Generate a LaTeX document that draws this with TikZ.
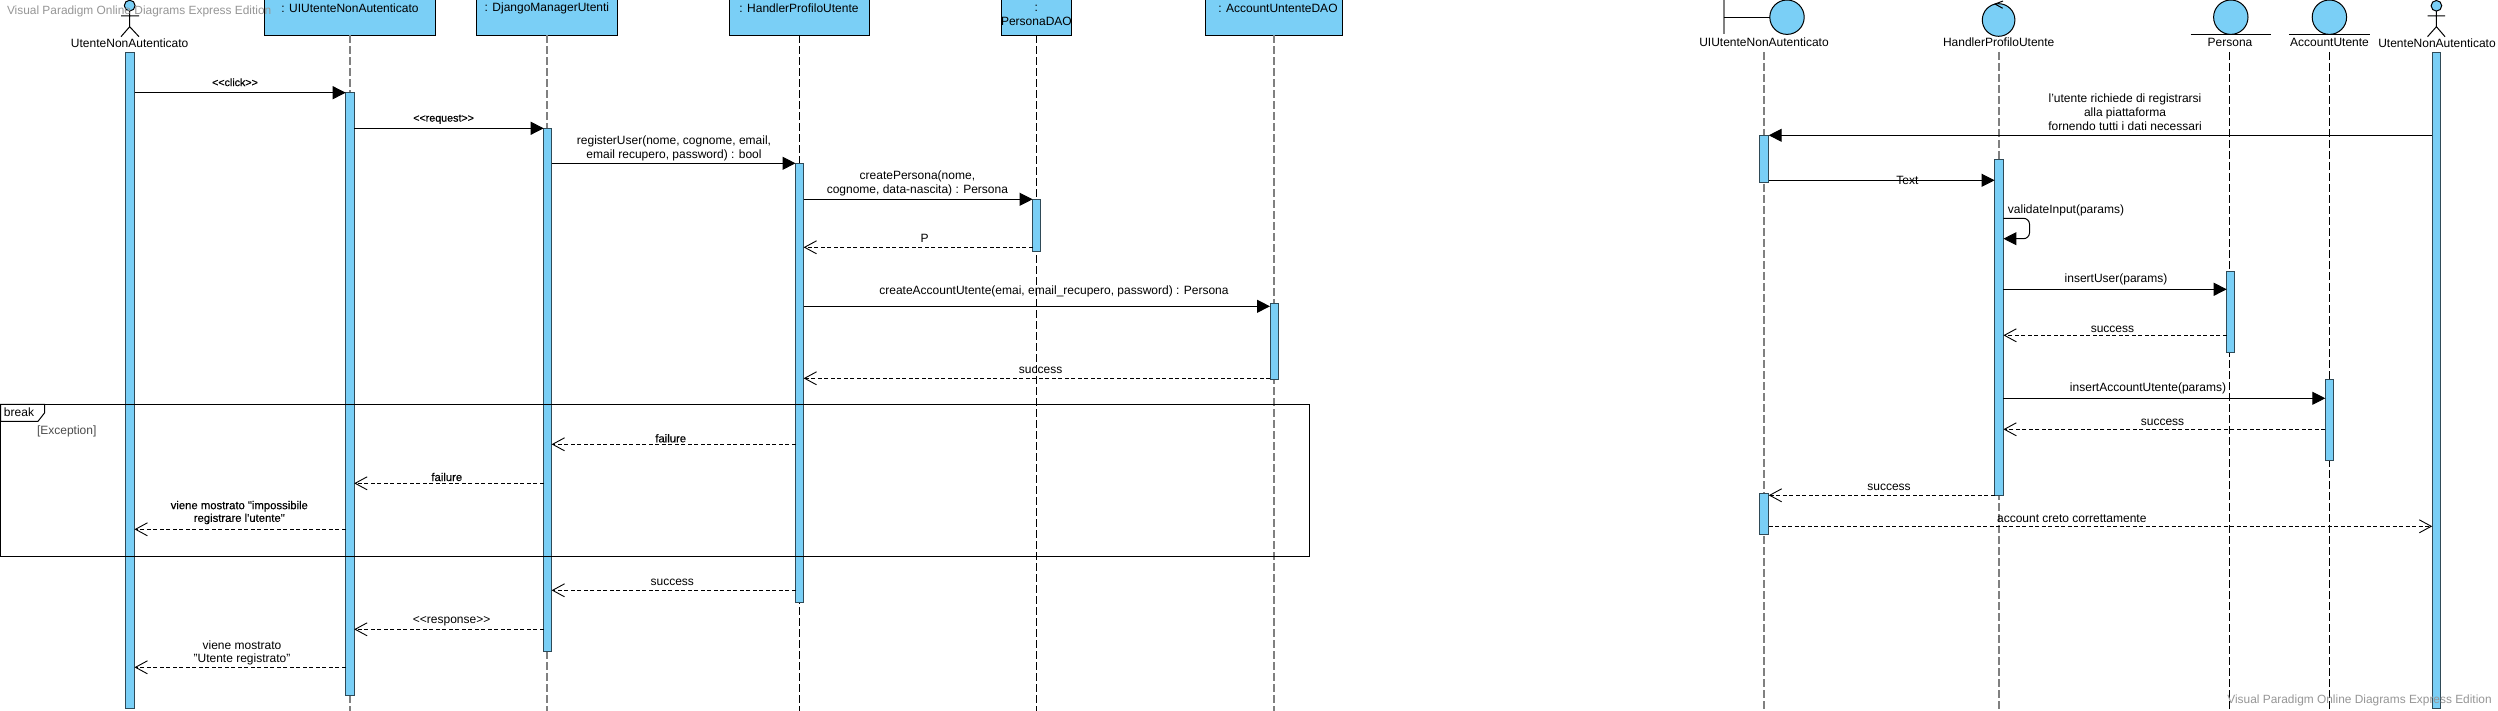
\documentclass[tikz,border=0pt]{standalone}
\usepackage{fontspec}
\setmainfont{Liberation Sans}
\newfontfamily\smallheavy[FakeBold=0.35]{Liberation Sans}
\usetikzlibrary{arrows.meta,fit}
\definecolor{vpblue}{HTML}{7ACFF6}
\definecolor{vpedge}{HTML}{2F4A57}
\definecolor{vpmark}{HTML}{969696}
\tikzset{
  headbox/.style={draw=black,fill=vpblue,line width=1pt,inner sep=0pt,outer sep=0pt},
  actb/.style={draw=vpedge,fill=vpblue,line width=1pt,inner sep=0pt,outer sep=0pt},
  life/.style={draw=black,line width=1pt,dash pattern=on 8pt off 3pt},
  lifeg/.style={draw=black!50,line width=2pt,dash pattern=on 8pt off 3pt},
  callm/.style={draw=black,line width=1pt,-{Triangle[length=13pt,width=13pt]}},
  retm/.style={draw=black,line width=0.9pt,dash pattern=on 4pt off 2.5pt,-{Straight Barb[length=12pt,width=13pt,line width=0.9pt]}},
  lbl/.style={inner sep=0pt,outer sep=0pt,align=center,font=\fontsize{12}{14}\selectfont},
  lbm/.style={inner sep=0pt,outer sep=0pt,align=center,font=\fontsize{12}{13.3}\selectfont},
  lbs/.style={inner sep=0pt,outer sep=0pt,align=center,font=\smallheavy\fontsize{10.7}{12.7}\selectfont},
  lbt/.style={inner sep=0pt,outer sep=0pt,align=center,font=\smallheavy\fontsize{11.3}{12.7}\selectfont},
  wmark/.style={inner sep=0pt,outer sep=0pt,text=vpmark,font=\fontsize{11.9}{14}\selectfont},
  circ/.style={circle,draw=black,fill=vpblue,line width=1pt,inner sep=0pt,outer sep=0pt},
  stick/.style={draw=black,line width=1pt}
}
\newcommand{\actbar}[5]{\node[actb,fit={(#2,#3)(#4,#5)}] (#1) {};}
\begin{document}
\begin{tikzpicture}[x=1pt,y=-1pt]
\useasboundingbox (0,0) rectangle (2498,711);
\fill[white] (0,0) rectangle (2498,711);

% --- left diagram: lifeline heads
\node[headbox,fit={(264.7,0)(435,35.3)}] (bU) {};
\node[headbox,fit={(476.4,0)(617.3,35.3)}] (bD) {};
\node[headbox,fit={(729.5,0)(869.6,35.3)}] (bH) {};
\node[headbox,fit={(1001.3,0)(1071.4,35.3)}] (bP) {};
\node[headbox,fit={(1205.4,0)(1342,35.3)}] (bA) {};
\node[lbl] (tU) at (350,8) {: UIUtenteNonAutenticato};
\node[lbl] (tD) at (546.9,8) {: DjangoManagerUtenti};
\node[lbl] (tH) at (799,8) {: HandlerProfiloUtente};
\node[lbl] (tP) at (1036.4,15) {:\\PersonaDAO};
\node[lbl] (tA) at (1278,8) {: AccountUntenteDAO};

\coordinate (eU) at (350,711);
\coordinate (eD) at (546.9,711);
\coordinate (eH) at (799,711);
\coordinate (eP) at (1036.6,711);
\coordinate (eA) at (1274,711);
\draw[lifeg] (bU.south -| eU) -- (eU);
\draw[lifeg] (bD.south -| eD) -- (eD);
\draw[life] (bH.south -| eH) -- (eH);
\draw[life] (bP.south -| eP) -- (eP);
\draw[lifeg] (bA.south -| eA) -- (eA);

% left actor
\node[circ,minimum size=10.8pt] (hL) at (129.7,5.6) {};
\coordinate (wL) at (129.7,26.7);
\coordinate (aL1) at (121,16);
\coordinate (aL2) at (139,16);
\coordinate (fL1) at (121,36.7);
\coordinate (fL2) at (139,36.7);
\draw[stick] (hL) -- (wL) (aL1) -- (aL2) (fL1) -- (wL) -- (fL2);
\node[lbl] (tL) at (129.7,43.7) {UtenteNonAutenticato};

% left activations
\actbar{aL}{125.5}{52.3}{134.5}{708}
\actbar{aU}{345.7}{92.7}{354.2}{695.3}
\actbar{aD}{543.7}{128.3}{551.6}{651.7}
\actbar{aH}{795.5}{163.3}{803.6}{602.3}
\actbar{aP}{1032.6}{199.3}{1040.6}{251.3}
\actbar{aA}{1270}{303.3}{1278.6}{379.3}

% left messages
\draw[callm] (aL.east |- 0,92.7) -- (aU.west |- 0,92.7);
\node[lbs] (m1) at (235,82.3) {<{}<click>{}>};
\draw[callm] (aU.east |- 0,128.3) -- (aD.west |- 0,128.3);
\node[lbs] (m2) at (443.6,119.3) {<{}<request>{}>};
\draw[callm] (aD.east |- 0,163.3) -- (aH.west |- 0,163.3);
\node[lbl] (m3) at (674,148.8) {registerUser(nome, cognome, email,\\email recupero, password) : bool};
\draw[callm] (aH.east |- 0,199.3) -- (aP.west |- 0,199.3);
\node[lbl] (m4) at (917.4,183.7) {createPersona(nome,\\cognome, data-nascita) : Persona};
\draw[retm] (aP.west |- 0,247.3) -- (aH.east |- 0,247.3);
\node[lbl] (m5) at (924.6,238.3) {P};
\draw[callm] (aH.east |- 0,306.3) -- (aA.west |- 0,306.3);
\node[lbl] (m6) at (1054,291.7) {createAccountUtente(emai, email\_recupero, password) : Persona};
\draw[retm] (aA.west |- 0,378.3) -- (aH.east |- 0,378.3);
\node[lbl] (m7) at (1040.6,370.7) {success};
\draw[retm] (aH.west |- 0,444.3) -- (aD.east |- 0,444.3);
\node[lbt] (m8) at (670.7,438.3) {failure};
\draw[retm] (aD.west |- 0,483.3) -- (aU.east |- 0,483.3);
\node[lbt] (m9) at (446.8,477) {failure};
\draw[retm] (aU.west |- 0,529.3) -- (aL.east |- 0,529.3);
\node[lbt] (m10) at (239.3,512.6) {viene mostrato "impossibile\\registrare l'utente"};
\draw[retm] (aH.west |- 0,590.3) -- (aD.east |- 0,590.3);
\node[lbl] (m11) at (672.3,582) {success};
\draw[retm] (aD.west |- 0,629.3) -- (aU.east |- 0,629.3);
\node[lbm] (m12) at (451.6,621.7) {<{}<response>{}>};
\draw[retm] (aU.west |- 0,667.3) -- (aL.east |- 0,667.3);
\node[lbm] (m13) at (242,652.7) {viene mostrato\\"Utente registrato"};

% combined fragment
\draw[draw=black,line width=1pt] (0.5,404.3) rectangle (1309.4,556.3);
\draw[draw=black,fill=white,line width=1pt] (0.5,404.3) -- (44.5,404.3) -- (44.5,413) -- (38,421.3) -- (0.5,421.3) -- cycle;
\node[lbl] (fb) at (19,412.7) {break};
\node[lbl,text=black!70] (fg) at (66.7,431.7) {[Exception]};

% --- right diagram: lifeline heads
\coordinate (bar1) at (1723.8,0);
\coordinate (bar2) at (1723.8,34.3);
\node[circ,minimum size=34.4pt] (cU) at (1787,17.2) {};
\draw[draw=black!50,line width=2pt] (bar1) -- (bar2);
\draw[stick] (bar1 |- cU) -- (cU);
\node[circ,minimum size=32.6pt] (cH) at (1998.6,20) {};
\coordinate (chv1) at (2003,1);
\coordinate (chv2) at (1995,4);
\coordinate (chv3) at (2002.7,8.3);
\draw[stick] (chv1) -- (chv2) -- (chv3);
\node[circ,minimum size=34.4pt] (cP) at (2230.8,17.2) {};
\coordinate (uP1) at (2190.7,34.3);
\coordinate (uP2) at (2270.5,34.3);
\draw[stick] (uP1) -- (uP2);
\node[circ,minimum size=34.4pt] (cA) at (2329.4,17.2) {};
\coordinate (uA1) at (2288.8,34.3);
\coordinate (uA2) at (2369.6,34.3);
\draw[stick] (uA1) -- (uA2);
\node[lbl] (tcU) at (1764,42.7) {UIUtenteNonAutenticato};
\node[lbl] (tcH) at (1998.7,42.7) {HandlerProfiloUtente};
\node[lbl] (tcP) at (2230,42.7) {Persona};
\node[lbl] (tcA) at (2329.5,42.7) {AccountUtente};

\coordinate (sU) at (1764,52);
\coordinate (sH) at (1998.7,52);
\coordinate (sP) at (2229.8,52);
\coordinate (sA) at (2329.5,52);
\coordinate (fU) at (1764,711);
\coordinate (fH) at (1998.7,711);
\coordinate (fP) at (2229.8,711);
\coordinate (fA) at (2329.5,711);
\draw[lifeg] (sU) -- (fU);
\draw[lifeg] (sH) -- (fH);
\draw[life] (sP) -- (fP);
\draw[life] (sA) -- (fA);

% right actor
\node[circ,minimum size=10.6pt] (hR) at (2436.4,5.8) {};
\coordinate (wR) at (2436.4,26.7);
\coordinate (aR1) at (2427.5,16);
\coordinate (aR2) at (2445,16);
\coordinate (fR1) at (2427.5,36.7);
\coordinate (fR2) at (2445,36.7);
\draw[stick] (hR) -- (wR) (aR1) -- (aR2) (fR1) -- (wR) -- (fR2);
\node[lbl] (tR) at (2437,43.7) {UtenteNonAutenticato};

% right activations
\actbar{rR}{2432.2}{52.3}{2440.6}{708.3}
\actbar{rU}{1759.3}{135.3}{1768.7}{182.3}
\actbar{rH}{1994.6}{159.3}{2003.4}{495.3}
\actbar{rP}{2226.7}{271.7}{2234.5}{352.3}
\actbar{rA}{2325.3}{379.3}{2333.6}{460}
\actbar{rV}{1759.3}{493.3}{1768.7}{534.3}

% right messages
\draw[callm] (rR.west |- 0,135.3) -- (rU.east |- 0,135.3);
\node[lbl] (n1) at (2125,112.7) {l'utente richiede di registrarsi\\alla piattaforma\\fornendo tutti i dati necessari};
\draw[callm] (rU.east |- 0,180.3) -- (rH.west |- 0,180.3);
\node[lbl] (n2) at (1907.4,180.7) {Text};
\coordinate (lp1) at (2029.5,218.3);
\coordinate (lp2) at (2029.5,238.7);
\draw[callm,rounded corners=6pt] (rH.east |- lp1) -- (lp1) -- (lp2) -- (rH.east |- lp2);
\node[lbl] (n3) at (2066,210) {validateInput(params)};
\draw[callm] (rH.east |- 0,289.3) -- (rP.west |- 0,289.3);
\node[lbl] (n4) at (2116,279.3) {insertUser(params)};
\draw[retm] (rP.west |- 0,335.3) -- (rH.east |- 0,335.3);
\node[lbl] (n5) at (2112.4,329) {success};
\draw[callm] (rH.east |- 0,398.3) -- (rA.west |- 0,398.3);
\node[lbl] (n6) at (2148,388.7) {insertAccountUtente(params)};
\draw[retm] (rA.west |- 0,429.3) -- (rH.east |- 0,429.3);
\node[lbl] (n7) at (2162.5,422.7) {success};
\draw[retm] (rH.west |- 0,495.3) -- (rV.east |- 0,495.3);
\node[lbl] (n8) at (1889,487.7) {success};
\draw[retm] (rV.east |- 0,526.3) -- (rR.west |- 0,526.3);
\node[lbl] (n9) at (2071.8,518.7) {account creto correttamente};

% watermarks
\node[wmark,anchor=west] (w1) at (7,11.7) {Visual Paradigm Online Diagrams Express Edition};
\node[wmark,anchor=east] (w2) at (2491.7,700.3) {Visual Paradigm Online Diagrams Express Edition};
\end{tikzpicture}
\end{document}
